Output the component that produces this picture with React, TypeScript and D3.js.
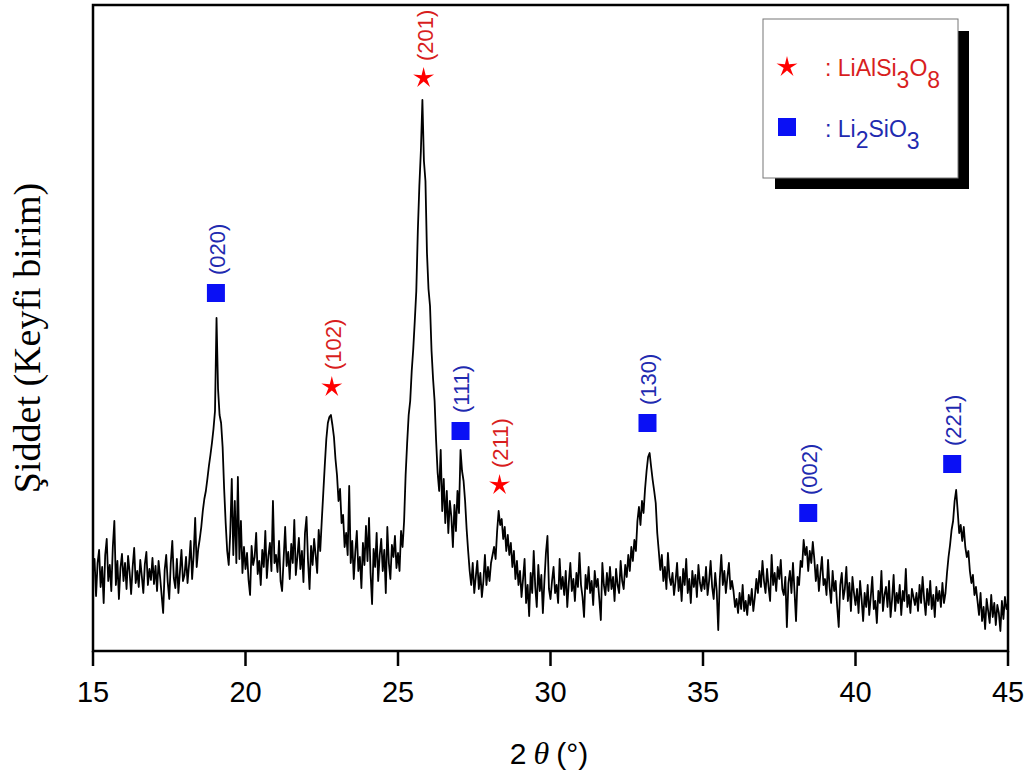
import React from "react";
import * as d3 from "d3";

// XRD pattern, 2θ from 15° to 45°, one reading every 0.05°
const startAngle = 15;
const stepAngle = 0.05;
const intensity = [
  // 15
  78, 92, 55, 88, 101, 64, 84, 48, 96, 112, 70, 86, 60, 104, 130, 66, 90, 52, 83, 97,
  // 16
  70, 88, 62, 95, 79, 57, 84, 103, 68, 80, 64, 91, 75, 58, 87, 99, 66, 82, 71, 93,
  // 17
  67, 85, 60, 90, 74, 56, 38, 81, 96, 69, 52, 88, 110, 73, 63, 92, 58, 79, 101, 70,
  // 18
  76, 94, 68, 87, 110, 72, 96, 133, 84, 102, 112, 124, 140, 152, 160, 172, 185, 196, 208, 222,
  // 19
  240, 333, 262, 236, 228, 204, 162, 128, 100, 86, 118, 172, 96, 150, 88, 174, 92, 130, 78, 104,
  // 20
  82, 98, 71, 56, 105, 86, 94, 118, 77, 90, 66, 101, 84, 120, 73, 95, 108, 80, 150, 88,
  // 21
  96, 79, 110, 70, 60, 92, 124, 85, 99, 72, 107, 88, 131, 76, 94, 113, 82, 100, 69, 118,
  // 22
  134, 90, 62, 105, 86, 112, 96, 78, 121, 100, 130, 158, 186, 212, 228, 234, 236, 226, 214, 192,
  // 23
  176, 150, 162, 128, 136, 104, 118, 96, 165, 88, 110, 72, 99, 120, 80, 94, 63, 108, 86, 125,
  // 24
  90, 133, 78, 47, 102, 84, 118, 70, 96, 112, 80, 101, 58, 124, 88, 72, 106, 94, 115, 83,
  // 25
  98, 80, 120, 104, 130, 176, 208, 236, 250, 280, 302, 330, 360, 420, 465, 500, 551, 490, 470, 398,
  // 26
  362, 345, 300, 272, 250, 210, 178, 160, 201, 140, 172, 128, 160, 118, 150, 134, 104, 146, 120, 160,
  // 27
  138, 201, 180, 170, 150, 122, 100, 80, 66, 88, 58, 74, 90, 62, 78, 54, 70, 96, 66, 84,
  // 28
  70, 88, 96, 104, 92, 120, 140, 126, 132, 112, 124, 100, 116, 96, 108, 84, 100, 72, 90, 66,
  // 29
  80, 54, 72, 92, 48, 66, 35, 78, 58, 100, 64, 44, 86, 60, 76, 38, 70, 98, 115, 62,
  // 30
  52, 70, 84, 58, 66, 48, 92, 62, 74, 56, 80, 44, 68, 88, 60, 72, 50, 78, 64, 98,
  // 31
  66, 54, 34, 76, 62, 84, 58, 70, 46, 80, 64, 72, 52, 31, 88, 66, 56, 78, 60, 84,
  // 32
  62, 74, 50, 82, 66, 58, 90, 70, 62, 86, 74, 96, 80, 104, 90, 111, 100, 130, 144, 126,
  // 33
  150, 138, 162, 180, 194, 198, 184, 171, 160, 148, 118, 100, 81, 96, 70, 84, 62, 98, 74, 66,
  // 34
  78, 56, 70, 88, 60, 74, 50, 82, 66, 92, 58, 72, 48, 80, 64, 76, 54, 86, 68, 60,
  // 35
  74, 62, 84, 56, 70, 90, 64, 52, 78, 60, 21, 72, 96, 66, 80, 58, 74, 88, 62, 70,
  // 36
  60, 44, 52, 38, 58, 42, 66, 40, 50, 36, 56, 46, 62, 40, 54, 72, 58, 80, 64, 90,
  // 37
  70, 58, 82, 64, 50, 96, 66, 78, 60, 84, 72, 91, 62, 56, 74, 24, 68, 80, 58, 88,
  // 38
  60, 30, 74, 66, 90, 84, 111, 96, 104, 80, 100, 88, 109, 92, 70, 86, 60, 78, 94, 66,
  // 39
  72, 56, 91, 64, 48, 80, 60, 70, 44, 24, 66, 78, 52, 62, 84, 50, 68, 40, 74, 58,
  // 40
  46, 62, 38, 70, 52, 30, 58, 44, 66, 36, 54, 74, 42, 50, 28, 60, 48, 80, 40, 56,
  // 41
  64, 44, 70, 34, 52, 76, 40, 58, 48, 66, 36, 60, 50, 82, 44, 56, 38, 62, 54, 46,
  // 42
  58, 40, 66, 48, 74, 52, 36, 62, 46, 70, 42, 56, 34, 64, 50, 60, 44, 68, 48, 58,
  // 43
  78, 94, 106, 121, 130, 150, 161, 140, 118, 126, 110, 124, 104, 94, 100, 80, 68, 76, 56, 64,
  // 44
  50, 36, 58, 30, 44, 22, 52, 40, 28, 56, 34, 48, 26, 46, 38, 20, 50, 32, 54, 42,
  // 45
  48,
];

const xTicks = [15, 20, 25, 30, 35, 40, 45];

// phase markers: hkl, peak position, marker height, phase
const peakLabels = ["(020)", "(102)", "(201)", "(111)", "(211)", "(130)", "(002)", "(221)"];
const peakAngles = [19.03, 22.83, 25.84, 27.05, 28.33, 33.18, 38.45, 43.17];
const markerHeights = [358, 265, 574, 220, 167, 228, 138, 187];
const peakPhases = ["Li2SiO3", "LiAlSi3O8", "LiAlSi3O8", "Li2SiO3", "LiAlSi3O8", "Li2SiO3", "Li2SiO3", "Li2SiO3"];

const W = 1029;
const H = 779;
const margin = { left: 93, right: 21, top: 5, bottom: 128 };

const RED = "#ff0000";
const RED_TEXT = "#d81e1e";
const BLUE = "#0a10f5";
const BLUE_TEXT = "#1f2bb0";
const SANS = "Arial, 'Liberation Sans', sans-serif";
const SERIF = "'Times New Roman', 'Liberation Serif', serif";

// 5 armed star, thinner than d3.symbolStar
function starPath(R: number) {
  const pts: [number, number][] = [];
  for (let k = 0; k < 10; k++) pts.push([(k * Math.PI) / 5, k % 2 === 0 ? R : R * 0.32]);
  return d3.lineRadial().curve(d3.curveLinearClosed)(pts) || "";
}

function Marker({ phase, x, y }: { phase: string; x: number; y: number }) {
  if (phase === "LiAlSi3O8") {
    return <path d={starPath(11)} transform={`translate(${x},${y + 1})`} fill={RED} />;
  }
  return <rect x={x - 9} y={y - 9} width={18} height={18} fill={BLUE} />;
}

export default function App() {
  const x0 = margin.left;
  const x1 = W - margin.right;
  const y0 = margin.top;
  const y1 = H - margin.bottom;

  const x = d3.scaleLinear().domain([15, 45]).range([x0, x1]);
  const y = d3.scaleLinear().domain([0, y1 - y0]).range([y1, y0]);

  const points: [number, number][] = intensity.map((v, i) => [startAngle + i * stepAngle, v]);
  const line = d3
    .line<[number, number]>()
    .x((d) => x(d[0]))
    .y((d) => y(d[1]));

  return (
    <div style={{ position: "absolute", left: 0, top: 0 }}>
      <svg width={W} height={H} style={{ display: "block", background: "#fff" }}>
        {/* spectrum */}
        <path d={line(points) || ""} fill="none" stroke="#000" strokeWidth={1.8} strokeLinejoin="round" />

        {/* peak assignments */}
        {peakLabels.map((lab, i) => {
          const cx = x(peakAngles[i]);
          const cy = y(markerHeights[i]);
          const isStar = peakPhases[i] === "LiAlSi3O8";
          const off = isStar ? 16 : 18;
          return (
            <g key={lab}>
              <Marker phase={peakPhases[i]} x={cx} y={cy} />
              <text
                transform={`translate(${cx + 1},${cy - off}) rotate(-90)`}
                dy="0.36em"
                fontFamily={SANS}
                fontSize={22}
                fill={isStar ? RED_TEXT : BLUE_TEXT}
              >
                {lab}
              </text>
            </g>
          );
        })}

        {/* frame */}
        <rect x={x0} y={y0} width={x1 - x0} height={y1 - y0} fill="none" stroke="#000" strokeWidth={2.5} />

        {/* x axis ticks */}
        {xTicks.map((t) => (
          <g key={t} transform={`translate(${x(t)},0)`}>
            <line y1={y1} y2={y1 + 15} stroke="#000" strokeWidth={2.5} />
            <text y={y1 + 51} textAnchor="middle" fontFamily={SANS} fontSize={29} fill="#000">
              {t}
            </text>
          </g>
        ))}

        {/* axis titles */}
        <text x={549} y={764} textAnchor="middle" fontFamily={SANS} fontSize={30} fill="#000">
          2
          <tspan dx={7} fontFamily={SERIF} fontStyle="italic" fontSize={32}>
            θ
          </tspan>
          <tspan dx={7}>(°)</tspan>
        </text>
        <text
          transform={`translate(40,338) rotate(-90)`}
          textAnchor="middle"
          fontFamily={SERIF}
          fontSize={38}
          fill="#000"
        >
          Şiddet (Keyfi birim)
        </text>

        {/* legend */}
        <rect x={775} y={31} width={194} height={158} fill="#000" />
        <rect x={763} y={19} width={195} height={159} fill="#fff" stroke="#777" strokeWidth={1} />
        <path d={starPath(11)} transform="translate(787,67)" fill={RED} />
        <text x={825} y={76} fontFamily={SANS} fontSize={23} fill={RED_TEXT}>
          : LiAlSi<tspan dy={12}>3</tspan>
          <tspan dy={-12}>O</tspan>
          <tspan dy={12}>8</tspan>
        </text>
        <rect x={778} y={118} width={18} height={18} fill={BLUE} />
        <text x={825} y={137} fontFamily={SANS} fontSize={23} fill={BLUE_TEXT}>
          : Li<tspan dy={11}>2</tspan>
          <tspan dy={-11}>SiO</tspan>
          <tspan dy={12}>3</tspan>
        </text>
      </svg>
    </div>
  );
}
